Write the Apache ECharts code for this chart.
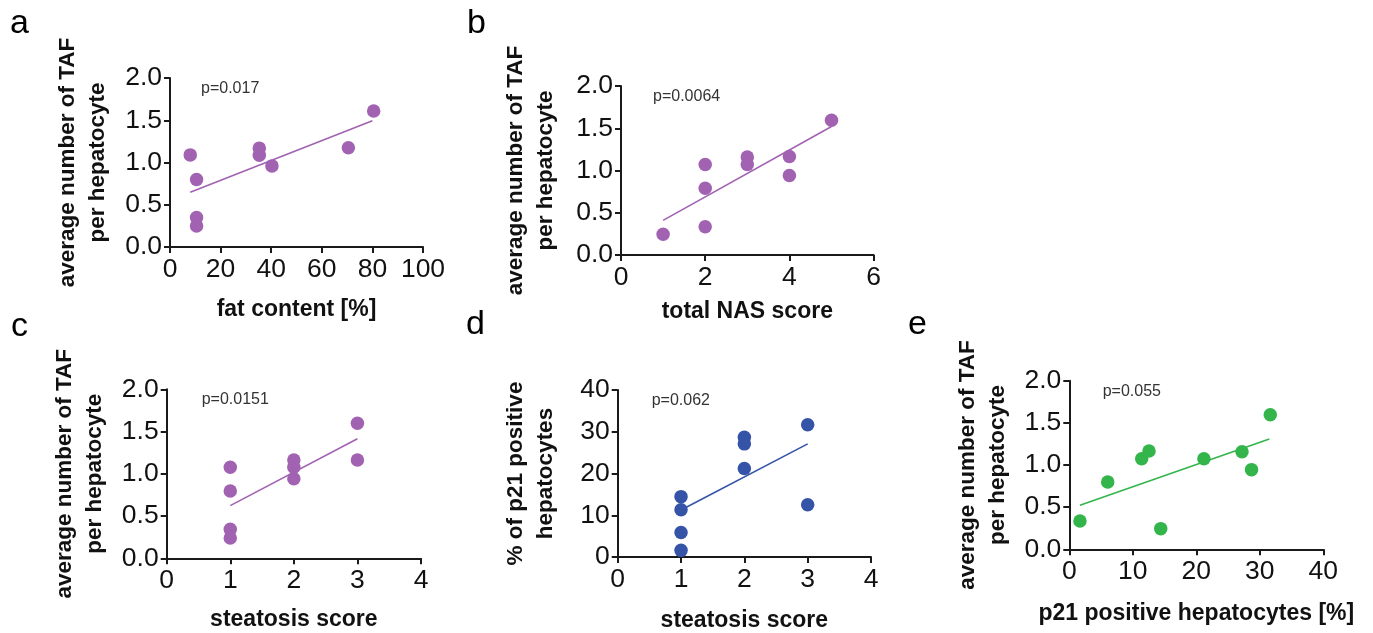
<!DOCTYPE html>
<html>
<head>
<meta charset="utf-8">
<script src="https://cdn.jsdelivr.net/npm/echarts@6/dist/echarts.min.js"></script>
<style>
html,body{margin:0;padding:0;background:#fff;}
#c{width:1373px;height:633px;}
</style>
</head>
<body>
<div id="c"></div>
<script>
// ---- data ----
const aX = [8, 10.5, 10.5, 10.5, 35.3, 35.3, 40.3, 70.5, 80.5];
const aY = [1.09, 0.80, 0.35, 0.25, 1.17, 1.085, 0.96, 1.175, 1.61];
const aFitX = [8, 80];
const aFitY = [0.647, 1.495];

const bX = [1, 2, 2, 2, 3, 3, 4, 4, 5];
const bY = [0.245, 0.335, 0.79, 1.07, 1.16, 1.07, 1.165, 0.94, 1.595];
const bFitX = [1, 5];
const bFitY = [0.41, 1.52];

const cX = [1, 1, 1, 1, 2, 2, 2, 3, 3];
const cY = [1.077, 0.797, 0.343, 0.24, 1.163, 1.077, 0.942, 1.598, 1.163];
const cFitX = [1, 3];
const cFitY = [0.623, 1.415];

const dX = [1, 1, 1, 1, 2, 2, 2, 3, 3];
const dY = [14.46, 11.3, 5.86, 1.59, 28.7, 27.1, 21.2, 31.7, 12.5];
const dFitX = [1, 3];
const dFitY = [11.24, 27.1];

const eX = [1.68, 6.05, 11.4, 12.55, 14.4, 21.2, 27.2, 28.7, 31.65];
const eY = [0.336, 0.798, 1.075, 1.166, 0.245, 1.075, 1.158, 0.945, 1.597];
const eFitX = [1.68, 31.5];
const eFitY = [0.522, 1.308];

const panelLetters = ['a', 'b', 'c', 'd', 'e'];
const pValues = ['p=0.017', 'p=0.0064', 'p=0.0151', 'p=0.062', 'p=0.055'];
const xTitles = ['fat content [%]', 'total NAS score', 'steatosis score', 'steatosis score', 'p21 positive hepatocytes [%]'];
const yTitles = ['average number of TAF\nper hepatocyte', 'average number of TAF\nper hepatocyte', 'average number of TAF\nper hepatocyte', '% of p21 positive\nhepatocytes', 'average number of TAF\nper hepatocyte'];
const xRanges = [[0, 100, 20], [0, 6, 2], [0, 4, 1], [0, 4, 1], [0, 40, 10]];
const yRanges = [[0, 2, 0.5], [0, 2, 0.5], [0, 2, 0.5], [0, 40, 10], [0, 2, 0.5]];

// ---- layout / style ----
const PURPLE = '#a262b2', BLUE = '#3554a8', GREEN = '#33b54b';
const colors = [PURPLE, PURPLE, PURPLE, BLUE, GREEN];
const grids = [
  {left: 170, top: 78, width: 253, height: 169},
  {left: 621, top: 86, width: 252.6, height: 169},
  {left: 166.7, top: 389.3, width: 254.3, height: 169},
  {left: 617.7, top: 390, width: 253.3, height: 168.7},
  {left: 1069.3, top: 380.7, width: 254, height: 168.6}
];
const yNameGaps = [57.5, 60, 57, 56.5, 57];
const xNameGaps = [51.5, 45, 50, 52, 53];
const letterPos = [[10, 24], [467, 24], [11, 326.5], [466, 324.5], [908, 324.5]];
const pPos = [[201, 89], [653, 96.7], [201.7, 400], [651.7, 400.7], [1102.7, 391.7]];

const xs = [aX, bX, cX, dX, eX];
const ys = [aY, bY, cY, dY, eY];
const fxs = [aFitX, bFitX, cFitX, dFitX, eFitX];
const fys = [aFitY, bFitY, cFitY, dFitY, eFitY];

const FONT = 'Liberation Sans, Arial, Helvetica, sans-serif';
const axisLine = {show: true, lineStyle: {color: '#1a1a1a', width: 2}};
const axisTick = {show: true, inside: false, length: 6, lineStyle: {color: '#1a1a1a', width: 2}};

const option = {
  animation: false,
  backgroundColor: '#ffffff',
  grid: grids.map(g => Object.assign({containLabel: false}, g)),
  xAxis: xRanges.map((r, i) => ({
    type: 'value', gridIndex: i, min: r[0], max: r[1], interval: r[2],
    axisLine, axisTick, splitLine: {show: false},
    axisLabel: {fontFamily: FONT, fontSize: 26.5, color: '#111', margin: 9},
    name: xTitles[i], nameLocation: 'middle', nameGap: xNameGaps[i],
    nameTextStyle: {fontFamily: FONT, fontSize: 23, fontWeight: 'bold', color: '#111'}
  })),
  yAxis: yRanges.map((r, i) => ({
    type: 'value', gridIndex: i, min: r[0], max: r[1], interval: r[2],
    axisLine, axisTick, splitLine: {show: false},
    axisLabel: {fontFamily: FONT, fontSize: 26.5, color: '#111', margin: 8,
      formatter: v => (r[2] < 1 ? v.toFixed(1) : String(v))},
    name: yTitles[i], nameLocation: 'middle', nameGap: yNameGaps[i], nameRotate: 90,
    nameTextStyle: {fontFamily: FONT, fontSize: 22.5, fontWeight: 'bold', color: '#111', lineHeight: 30}
  })),
  series: [],
  graphic: []
};

for (let i = 0; i < 5; i++) {
  option.series.push({
    type: 'line', xAxisIndex: i, yAxisIndex: i,
    data: fxs[i].map((x, k) => [x, fys[i][k]]),
    showSymbol: false, symbol: 'none',
    lineStyle: {color: colors[i], width: 1.6}, z: 2
  });
  option.series.push({
    type: 'scatter', xAxisIndex: i, yAxisIndex: i,
    data: xs[i].map((x, k) => [x, ys[i][k]]),
    symbol: 'circle', symbolSize: 13.5,
    itemStyle: {color: colors[i], opacity: 1}, z: 3
  });
  option.graphic.push({
    type: 'text', x: letterPos[i][0], y: letterPos[i][1],
    style: {text: panelLetters[i], font: '34px ' + FONT, fill: '#000',
      textAlign: 'left', textVerticalAlign: 'middle', verticalAlign: 'middle'}
  });
  option.graphic.push({
    type: 'text', x: pPos[i][0], y: pPos[i][1],
    style: {text: pValues[i], font: '16px ' + FONT, fill: '#333',
      textAlign: 'left', textVerticalAlign: 'middle', verticalAlign: 'middle'}
  });
}

const chart = echarts.init(document.getElementById('c'), null, {renderer: 'canvas'});
chart.setOption(option);
</script>
</body>
</html>
